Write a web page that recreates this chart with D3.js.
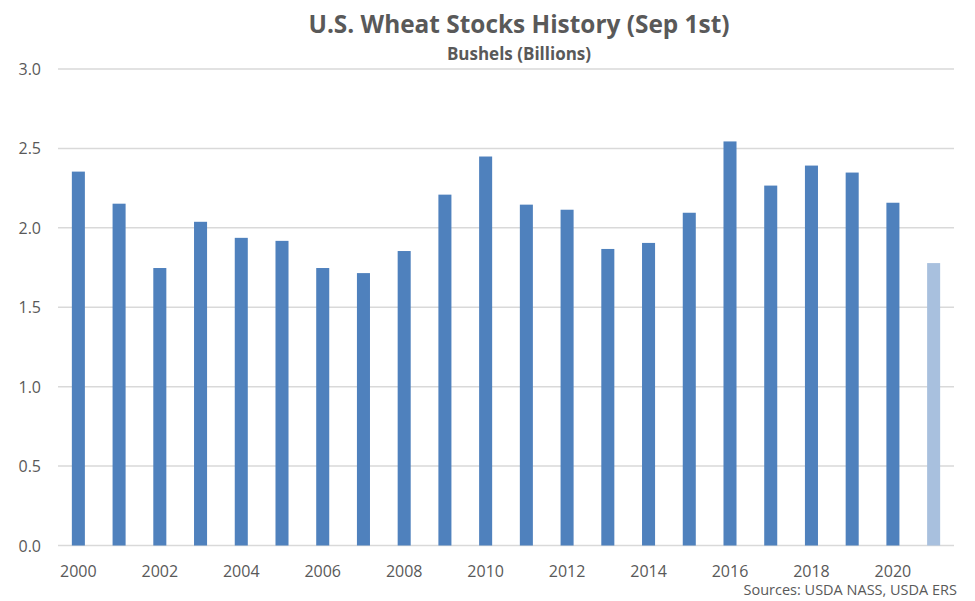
<!DOCTYPE html>
<html><head><meta charset="utf-8">
<script src="https://cdn.jsdelivr.net/npm/d3@7"></script>
<style>body{margin:0;background:#fff}svg{display:block}</style>
</head><body>
<svg id="c" width="975" height="601"></svg>
<script>
const years = ["2000","2001","2002","2003","2004","2005","2006","2007","2008","2009","2010","2011","2012","2013","2014","2015","2016","2017","2018","2019","2020","2021"];
const stocks = [2.354,2.152,1.747,2.038,1.937,1.918,1.747,1.715,1.854,2.209,2.449,2.146,2.114,1.867,1.905,2.095,2.544,2.266,2.392,2.348,2.158,1.778];
const yTicks = [0,0.5,1,1.5,2,2.5,3];
const xTickLabels = ["2000","2002","2004","2006","2008","2010","2012","2014","2016","2018","2020"];

const svg = d3.select("#c");
const font = "'Open Sans', 'Liberation Sans', sans-serif";
const grey = "#595959";
const L = 58, R = 954, T = 69, B = 545.5;
const x = d3.scaleBand().domain(years).range([L, R]).paddingInner(0.68).paddingOuter(0.34);
const y = d3.scaleLinear().domain([0, 3]).range([B, T]);

svg.append("g").selectAll("line").data(yTicks).join("line")
  .attr("x1", L).attr("x2", R).attr("y1", d => y(d)).attr("y2", d => y(d))
  .attr("stroke", "#d9d9d9").attr("stroke-width", 1.5);

svg.append("g").selectAll("text").data(yTicks).join("text")
  .attr("x", 41).attr("y", d => y(d) + 6).attr("text-anchor", "end")
  .attr("font-family", font).attr("font-size", 16).attr("fill", grey)
  .text(d => d3.format(".1f")(d));

svg.append("g").selectAll("rect").data(stocks).join("rect")
  .attr("x", (d, i) => x(years[i])).attr("width", x.bandwidth())
  .attr("y", d => y(d)).attr("height", d => y(0) - y(d))
  .attr("fill", (d, i) => i === years.length - 1 ? "#a8c0de" : "#4f81bd");

svg.append("g").selectAll("text").data(xTickLabels).join("text")
  .attr("x", d => x(d) + x.bandwidth() / 2).attr("y", 577).attr("text-anchor", "middle")
  .attr("font-family", font).attr("font-size", 16).attr("fill", grey)
  .text(d => d);

svg.append("text").attr("x", 519).attr("y", 33).attr("text-anchor", "middle")
  .attr("font-family", font).attr("font-size", 24.4).attr("font-weight", "bold").attr("fill", grey)
  .text("U.S. Wheat Stocks History (Sep 1st)");
svg.append("text").attr("x", 519).attr("y", 60).attr("text-anchor", "middle")
  .attr("font-family", font).attr("font-size", 17).attr("font-weight", "bold").attr("fill", grey)
  .text("Bushels (Billions)");
svg.append("text").attr("x", 957).attr("y", 595).attr("text-anchor", "end")
  .attr("font-family", font).attr("font-size", 14.5).attr("fill", grey)
  .text("Sources: USDA NASS, USDA ERS");
</script>
</body></html>
